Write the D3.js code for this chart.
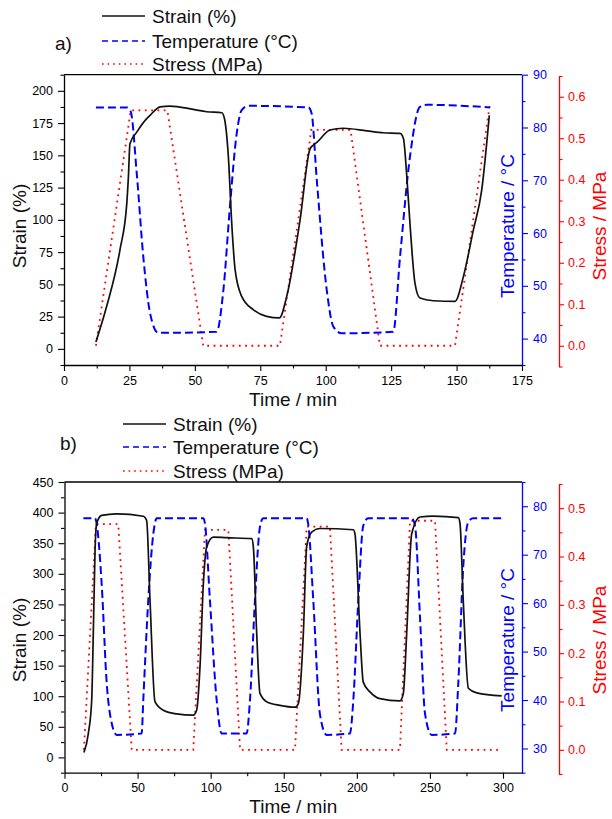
<!DOCTYPE html>
<html>
<head>
<meta charset="utf-8">
<script src="https://cdn.jsdelivr.net/npm/d3@7"></script>
<style>
  body { margin: 0; background: #fff; }
  svg text { font-family: Arial, "Liberation Sans", sans-serif; }
</style>
</head>
<body>
<svg id="chart" width="612" height="819"></svg>
<script>
// ---- Data, panel a : [time (min), value] ----
var strainA = [[12.2,5.4],[16.3,33],[21.4,77],[24,113],[24.6,133],[25.2,159],[27.8,168],[31.6,178.5],[32.9,181],
  [36.7,187.6],[40.5,188.2],[49.4,185.6],[54.5,183.8],[60.3,183],[61.3,178.6],[62.8,149],[64.1,97],[65.4,61],
  [67.9,40.7],[72.3,30.4],[77.4,25.2],[82.3,24],[85.1,40.7],[90.2,100],[94,155],[95.3,158],[96.6,160],
  [101.6,169.6],[106.7,171],[115.7,169],[122,167.5],[128.4,167],[129.7,163],[130.9,136],[132.2,97],[134.1,51],
  [136,39.4],[141.1,37.3],[149.4,36.8],[152.6,56],[156.4,92],[159.6,123],[162.5,181]];
var tempA = [[12.2,83.8],[24,83.8],[25.5,83],[27.8,71.3],[30.3,55.5],[32.9,44.8],[36,41.1],[40.5,41.1],[58.3,41.3],
  [60.9,49.2],[63.4,65],[66,78.9],[67.9,83.3],[70.4,84.1],[93.4,83.8],[94.6,82.7],[96.6,70],[100.4,49.2],
  [102.9,42.3],[106.1,41],[125.8,41.3],[128.4,55.5],[132.2,74.5],[136,83.9],[138.6,84.3],[162.8,83.8]];
var stressA = [[12.2,0],[25.5,0.567],[39.5,0.567],[53.2,0],[82.5,0],[94.5,0.52],[109.5,0.52],[120.7,0],
  [149.4,0],[162.8,0.585]];

// ---- Data, panel b ----
var strainB = [[13.3,8],[16.3,39],[18.6,93],[19.7,202],[20.9,338],[22,382],[25.4,395.5],[35.7,398],[53.9,394],
  [56.2,387],[58.5,257],[61.9,91],[67.6,77],[76.7,71],[88.1,69],[90.4,77],[92.7,148],[95,284],[97.3,344],
  [101.8,360],[111,359],[128.1,357.5],[129.2,344],[131.5,202],[133.7,105],[138.3,91],[147.4,85],[157.7,82],
  [160,88],[163.4,202],[165.7,345],[169.1,368],[174.8,374],[197.6,372],[198.7,365.6],[202.2,202],[204.4,123],
  [209,107],[215.8,96],[229.5,92.4],[231.8,104.5],[234.1,202],[237.5,365],[243.2,392.8],[252.3,394.4],
  [269.4,391.8],[270.6,382],[272.8,257],[276.3,113],[282,105.5],[299.1,100.6]];
var tempB = [[12.9,77.5],[20.9,77.5],[22,76.4],[25.4,64.1],[28.9,43.4],[32.3,35.2],[35.7,32.8],[52.8,33.1],
  [53.9,40],[57.3,60.6],[60.8,74.4],[63.1,77.5],[95,77.5],[96.1,76.4],[99.5,60.6],[104.1,40],[107.5,33.1],
  [124.6,33.1],[126.9,40],[130.3,60.6],[133.7,75.7],[136,77.5],[165.7,77.5],[166.8,76.2],[170.2,60.6],
  [174.8,37],[179.4,32.8],[195.3,33.1],[197.6,40],[201,60.6],[204.4,76],[207.8,77.5],[237.5,77.5],[239.8,76],
  [243.2,57.2],[246.6,37.3],[251.2,32.8],[267.2,33.1],[269.4,43.4],[272.8,67.5],[276.3,76.8],[279.7,77.5],
  [299.1,77.5]];
var stressB = [[13.3,0],[21.5,0.467],[36.8,0.467],[46,0],[88.1,0],[96.1,0.455],[112.1,0.455],[120.1,0],
  [157.7,0],[165.7,0.462],[181.6,0.462],[189.6,0],[229.5,0],[236.4,0.474],[253.5,0.474],[261.5,0],[298,0]];

// ---- Tick labels ----
var timeTicksA = [0, 25, 50, 75, 100, 125, 150, 175];
var strainTicksA = [0, 25, 50, 75, 100, 125, 150, 175, 200];
var tempTicksA = [40, 50, 60, 70, 80, 90];
var stressTicksA = [0, 0.1, 0.2, 0.3, 0.4, 0.5, 0.6];
var timeTicksB = [0, 50, 100, 150, 200, 250, 300];
var strainTicksB = [0, 50, 100, 150, 200, 250, 300, 350, 400, 450];
var tempTicksB = [30, 40, 50, 60, 70, 80];
var stressTicksB = [0, 0.1, 0.2, 0.3, 0.4, 0.5];

var legendLabels = ["Strain (%)", "Temperature (°C)", "Stress (MPa)"];

var svg = d3.select("#chart");

// style helper for an axis group
function styleAxis(g, color) {
    g.select(".domain").attr("stroke", color).attr("stroke-width", 1.3);
    g.selectAll(".tick line").attr("stroke", color).attr("stroke-width", 1.1);
    g.selectAll(".tick text").attr("fill", color).style("font-size", "12.5px");
}

function minorAxis(axis, values, pos, color) {
    var g = svg.append("g").attr("transform", pos)
        .call(axis.tickValues(values).tickSize(3.5).tickSizeOuter(0).tickFormat(""));
    g.select(".domain").remove();
    g.selectAll(".tick line").attr("stroke", color).attr("stroke-width", 1.1);
}

function drawPanel(p) {
    var x = d3.scaleLinear().domain(p.xDomain).range([p.left, p.right]);
    var yS = d3.scaleLinear().domain(p.strainDomain).range([p.bottom, p.top]);
    var yT = d3.scaleLinear().domain(p.tempDomain).range([p.bottom, p.top]);
    var yP = d3.scaleLinear().domain(p.stressDomain).range(p.stressRange);

    // top frame line
    svg.append("line")
        .attr("x1", p.left).attr("x2", p.right)
        .attr("y1", p.top).attr("y2", p.top)
        .attr("stroke", "#000").attr("stroke-width", 1.3);

    // minor ticks
    minorAxis(d3.axisBottom(x), p.xMinor, "translate(0," + p.bottom + ")", "#000");
    minorAxis(d3.axisLeft(yS), p.strainMinor, "translate(" + p.left + ",0)", "#000");
    minorAxis(d3.axisRight(yT), p.tempMinor, "translate(" + p.right + ",0)", "blue");
    minorAxis(d3.axisRight(yP), p.stressMinor, "translate(" + p.stressX + ",0)", "red");

    // major axes
    svg.append("g").attr("transform", "translate(0," + p.bottom + ")")
        .call(d3.axisBottom(x).tickValues(p.xTicks).tickSize(6).tickSizeOuter(0).tickPadding(p.xPad))
        .call(styleAxis, "#000");
    svg.append("g").attr("transform", "translate(" + p.left + ",0)")
        .call(d3.axisLeft(yS).tickValues(p.strainTicks).tickSize(6).tickSizeOuter(0).tickPadding(5))
        .call(styleAxis, "#000");
    svg.append("g").attr("transform", "translate(" + p.right + ",0)")
        .call(d3.axisRight(yT).tickValues(p.tempTicks).tickSize(6).tickSizeOuter(0).tickPadding(5))
        .call(styleAxis, "blue");
    svg.append("g").attr("transform", "translate(" + p.stressX + ",0)")
        .call(d3.axisRight(yP).tickValues(p.stressTicks).tickSize(5).tickSizeOuter(0).tickPadding(4)
            .tickFormat(d3.format(".1f")))
        .call(styleAxis, "red");

    // series
    svg.append("path").datum(p.stress)
        .attr("d", d3.line().x(d => x(d[0])).y(d => yP(d[1])))
        .attr("fill", "none").attr("stroke", "red").attr("stroke-width", 1.8)
        .attr("stroke-dasharray", "1.8,4.5");
    svg.append("path").datum(p.temp)
        .attr("d", d3.line().x(d => x(d[0])).y(d => yT(d[1])).curve(d3.curveMonotoneX))
        .attr("fill", "none").attr("stroke", "blue").attr("stroke-width", 2)
        .attr("stroke-dasharray", "8,4");
    svg.append("path").datum(p.strain)
        .attr("d", d3.line().x(d => x(d[0])).y(d => yS(d[1])).curve(d3.curveMonotoneX))
        .attr("fill", "none").attr("stroke", "#111").attr("stroke-width", 1.7);

    // axis titles
    svg.append("text")
        .attr("transform", "translate(26," + p.titleY + ") rotate(-90)")
        .attr("text-anchor", "middle").style("font-size", "19px").attr("fill", "#111")
        .text("Strain (%)");
    svg.append("text")
        .attr("transform", "translate(514," + p.titleY + ") rotate(-90)")
        .attr("text-anchor", "middle").style("font-size", "19px").attr("fill", "blue")
        .text("Temperature / °C");
    svg.append("text")
        .attr("transform", "translate(606," + p.titleY + ") rotate(-90)")
        .attr("text-anchor", "middle").style("font-size", "19px").attr("fill", "red")
        .text("Stress / MPa");
    svg.append("text")
        .attr("x", (p.left + p.right) / 2).attr("y", p.timeTitleY)
        .attr("text-anchor", "middle").style("font-size", "19px").attr("fill", "#111")
        .text("Time / min");

    // panel letter
    svg.append("text")
        .attr("x", p.letterX).attr("y", p.letterY)
        .style("font-size", "19px").attr("fill", "#111")
        .text(p.letter);

    // legend
    var styles = [
        { color: "#111", width: 1.5, dash: null },
        { color: "blue", width: 1.3, dash: "6,4" },
        { color: "red", width: 1.6, dash: "1.6,4" }
    ];
    legendLabels.forEach(function(label, i) {
        var yy = p.legendY[i];
        svg.append("line")
            .attr("x1", p.legendX).attr("x2", p.legendX + 43)
            .attr("y1", yy).attr("y2", yy)
            .attr("stroke", styles[i].color).attr("stroke-width", styles[i].width)
            .attr("stroke-dasharray", styles[i].dash);
        svg.append("text")
            .attr("x", p.legendX + 50).attr("y", yy + 7)
            .style("font-size", "19px").attr("fill", "#111")
            .text(label);
    });
}

drawPanel({
    left: 64, right: 522, top: 74.7, bottom: 365,
    xDomain: [0, 175], strainDomain: [-12.5, 212.5], tempDomain: [35, 90],
    stressDomain: [-0.05, 0.65], stressRange: [366.5, 76], stressX: 559,
    xTicks: timeTicksA, xMinor: d3.range(12.5, 175, 25), xPad: 5,
    strainTicks: strainTicksA, strainMinor: d3.range(-12.5, 213, 25),
    tempTicks: tempTicksA, tempMinor: d3.range(35, 90, 10),
    stressTicks: stressTicksA, stressMinor: d3.range(0, 8).map(i => -0.05 + i * 0.1),
    strain: strainA, temp: tempA, stress: stressA,
    titleY: 226, timeTitleY: 406,
    letter: "a)", letterX: 55, letterY: 50,
    legendX: 102, legendY: [16, 41, 64]
});

drawPanel({
    left: 64.5, right: 522, top: 482, bottom: 772.7,
    xDomain: [0, 313], strainDomain: [-25, 450], tempDomain: [25, 85],
    stressDomain: [-0.05, 0.55], stressRange: [774, 484], stressX: 559,
    xTicks: timeTicksB, xMinor: d3.range(25, 313, 50), xPad: 4,
    strainTicks: strainTicksB, strainMinor: d3.range(-25, 450, 50),
    tempTicks: tempTicksB, tempMinor: d3.range(25, 90, 10),
    stressTicks: stressTicksB, stressMinor: d3.range(0, 7).map(i => -0.05 + i * 0.1),
    strain: strainB, temp: tempB, stress: stressB,
    titleY: 640, timeTitleY: 813,
    letter: "b)", letterX: 60, letterY: 450,
    legendX: 123, legendY: [424, 447, 471]
});
</script>
</body>
</html>
